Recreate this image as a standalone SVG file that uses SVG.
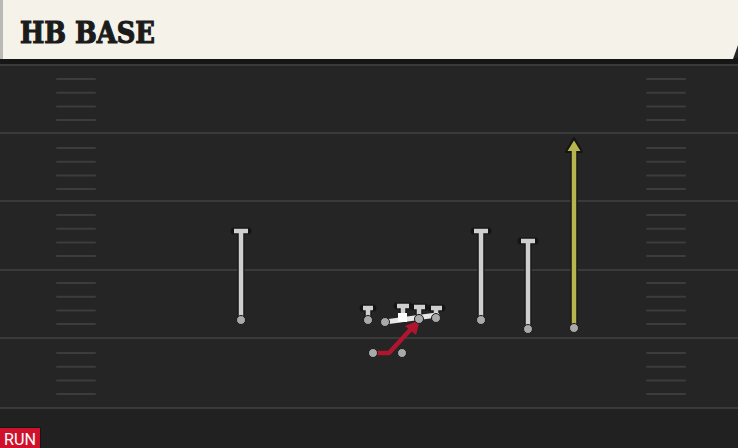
<svg xmlns="http://www.w3.org/2000/svg" width="738" height="448" viewBox="0 0 738 448">
<style>
.yard{stroke:#3a3a3a;stroke-width:2}
.hash{stroke:#3c3c3c;stroke-width:2;stroke-linecap:round}
.out{stroke:#141414;stroke-width:7;fill:none;stroke-linecap:round}
.rt{stroke:#cfcfcf;stroke-width:4.5;fill:none}
.pl{fill:#a9a9a9;stroke:#1a1a1a;stroke-width:1}
</style>
<defs>
<g id="hashes">
<line class="hash" x1="57" x2="95" y1="0" y2="0"/>
<line class="hash" x1="57" x2="95" y1="13.7" y2="13.7"/>
<line class="hash" x1="57" x2="95" y1="27.4" y2="27.4"/>
<line class="hash" x1="57" x2="95" y1="41.1" y2="41.1"/>
<line class="hash" x1="647" x2="685" y1="0" y2="0"/>
<line class="hash" x1="647" x2="685" y1="13.7" y2="13.7"/>
<line class="hash" x1="647" x2="685" y1="27.4" y2="27.4"/>
<line class="hash" x1="647" x2="685" y1="41.1" y2="41.1"/>
</g>
</defs>
<rect width="738" height="448" fill="#252525"/>
<rect y="408" width="738" height="40" fill="#212121"/>
<g id="field">
<line class="yard" x1="0" x2="738" y1="65" y2="65"/>
<line class="yard" x1="0" x2="738" y1="133" y2="133"/>
<line class="yard" x1="0" x2="738" y1="201" y2="201"/>
<line class="yard" x1="0" x2="738" y1="270" y2="270"/>
<line class="yard" x1="0" x2="738" y1="338" y2="338"/>
<line class="yard" x1="0" x2="738" y1="408" y2="408"/>
<use href="#hashes" y="79"/>
<use href="#hashes" y="148"/>
<use href="#hashes" y="215"/>
<use href="#hashes" y="283"/>
<use href="#hashes" y="353"/>
</g>
<g id="header">
<rect y="58" width="738" height="6" fill="#161616"/>
<path d="M0 0H738V45L733 59H0Z" fill="#f5f2ea"/>
<rect x="0" y="0" width="3" height="59" fill="#b9b9b6"/>
<text x="20" y="43" font-family="DejaVu Serif, serif" font-weight="bold" font-size="29" fill="#1b1b1b" stroke="#1b1b1b" stroke-width="1.2" textLength="135" lengthAdjust="spacingAndGlyphs">HB BASE</text>
</g>
<g id="connectors">
<path class="out" d="M241 320V231M234 231H248"/>
<path class="rt" d="M241 320V231M234 231H248"/>
<path class="out" d="M481 320V231M474 231H488"/>
<path class="rt" d="M481 320V231M474 231H488"/>
<path class="out" d="M528 329V241M521 241H535"/>
<path class="rt" d="M528 329V241M521 241H535"/>
<path d="M574 328V146" stroke="#141414" stroke-width="7"/>
<path d="M566 152L574 138L582 152Z" fill="#141414" stroke="#141414" stroke-width="2" stroke-linejoin="round"/>
<path d="M574 328V148" stroke="#b7b64e" stroke-width="4.5"/>
<path d="M567.5 151L574 140.5L580.5 151Z" fill="#b7b64e"/>
<path class="out" d="M368 320V308M363 308H373"/>
<path class="rt" d="M368 320V308M363 308H373"/>
<path class="out" d="M403 319V306M397 306H409"/>
<path class="rt" d="M403 319V306M397 306H409"/>
<path class="out" d="M419 319V307M414 307H425"/>
<path class="rt" d="M419 319V307M414 307H425"/>
<path class="out" d="M436 318V308M431 308H442"/>
<path class="rt" d="M436 318V308M431 308H442"/>
<path d="M385 322L437 315" stroke="#e8e8e8" stroke-width="5" stroke-linecap="round"/>
<rect x="398" y="313" width="9" height="9" fill="#ffffff"/>
<path d="M373 353H389L411 329" stroke="#b0152f" stroke-width="4.5" fill="none" stroke-linejoin="round"/>
<path d="M405 326L420 320L416 335Z" fill="#b0152f"/>
</g>
<g id="players">
<circle class="pl" cx="241" cy="320" r="4.5"/>
<circle class="pl" cx="481" cy="320" r="4.5"/>
<circle class="pl" cx="528" cy="329" r="4.5"/>
<circle class="pl" cx="574" cy="328" r="4.5"/>
<circle class="pl" cx="368" cy="320" r="4.5"/>
<circle class="pl" cx="385" cy="322" r="4.5"/>
<circle class="pl" cx="419" cy="319" r="4.5"/>
<circle class="pl" cx="436" cy="318" r="4.5"/>
<circle class="pl" cx="373" cy="353" r="4.5"/>
<circle class="pl" cx="402" cy="353" r="4.5"/>
</g>
<g id="badge">
<rect x="0" y="427" width="41" height="21" fill="#161616"/>
<rect x="0" y="428" width="40" height="20" fill="#d0112b"/>
<text x="4" y="445" font-family="Roboto, sans-serif" font-size="17" fill="#ffffff" textLength="32" lengthAdjust="spacingAndGlyphs">RUN</text>
</g>
</svg>
